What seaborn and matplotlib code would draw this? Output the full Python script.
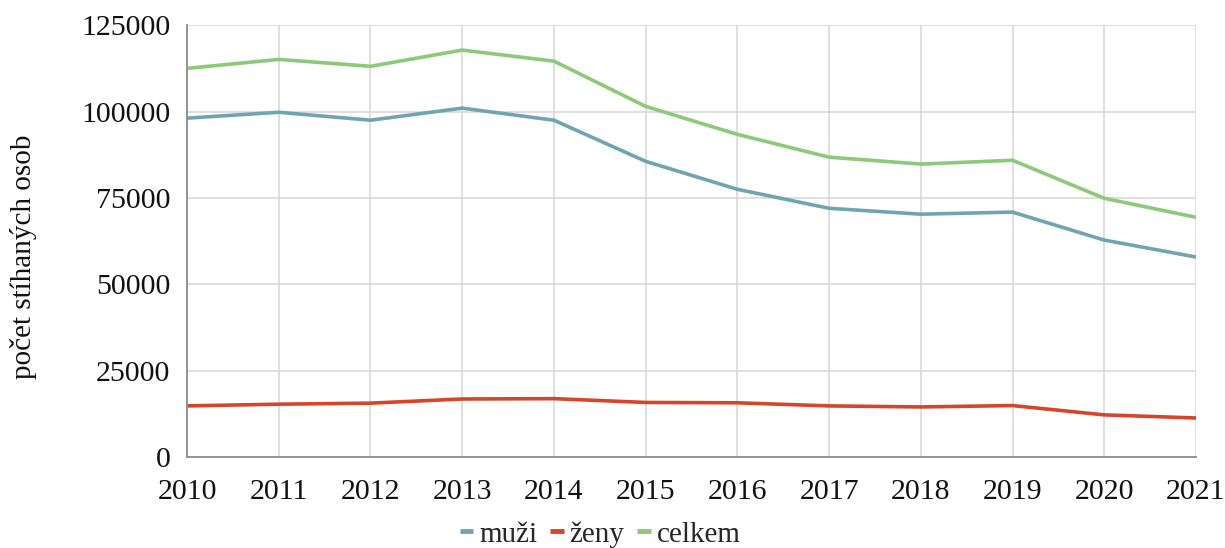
import matplotlib
matplotlib.use("Agg")
import matplotlib.pyplot as plt
import seaborn as sns
import pandas as pd
from matplotlib.lines import Line2D

years = list(range(2010, 2022))
muzi = [98100, 99800, 97500, 101000, 97500, 85600, 77500, 72000, 70300, 70900, 62800, 57900]
zeny = [14800, 15300, 15600, 16800, 16900, 15800, 15700, 14800, 14500, 14900, 12200, 11300]
celkem = [112500, 115100, 113100, 117800, 114600, 101500, 93400, 86800, 84800, 85900, 74900, 69400]
series_names = ["muži", "ženy", "celkem"]
colors = ["#6FA5B1", "#D6452A", "#8DC97A"]
y_ticks = [0, 25000, 50000, 75000, 100000, 125000]

df = pd.DataFrame({"rok": years * 3,
                   "hodnota": muzi + zeny + celkem,
                   "serie": sum([[n] * len(years) for n in series_names], [])})

sns.set_style("white")
plt.rcParams["font.family"] = ["Liberation Serif", "DejaVu Serif"]

fig = plt.figure(figsize=(12.25, 5.48), dpi=100)
ax = fig.add_axes([0.1527, 0.166, 0.8236, 0.788])
sns.lineplot(data=df, x="rok", y="hodnota", hue="serie", palette=colors,
             hue_order=series_names, linewidth=2.6, ax=ax, legend=False)

ax.set_xlim(2010, 2021)
ax.set_ylim(0, 125000)
ax.set_xticks(years)
ax.set_yticks(y_ticks)
ax.tick_params(axis="both", labelsize=21.5, length=0, colors="#111111")
ax.tick_params(axis="x", pad=16)
ax.tick_params(axis="y", pad=12)
ax.grid(True, color="#D9D9D9", linewidth=1.2)
ax.set_axisbelow(True)
for s in ["top", "right"]:
    ax.spines[s].set_visible(False)
for s in ["left", "bottom"]:
    ax.spines[s].set_color("#8C8C8C")
    ax.spines[s].set_linewidth(1.3)
ax.set_xlabel("")
ax.set_ylabel("počet stíhaných osob", fontsize=21, color="#111111")
ax.yaxis.set_label_coords(-0.149, 0.463)

handles = [Line2D([0], [0], color=c, lw=3.5, solid_capstyle="butt") for c in colors]
fig.legend(handles, series_names, loc="lower center", bbox_to_anchor=(0.49, -0.047),
           ncol=3, frameon=False, fontsize=21, handlelength=0.45,
           handletextpad=0.2, columnspacing=0.45)

fig.savefig("out.png", dpi=100)
